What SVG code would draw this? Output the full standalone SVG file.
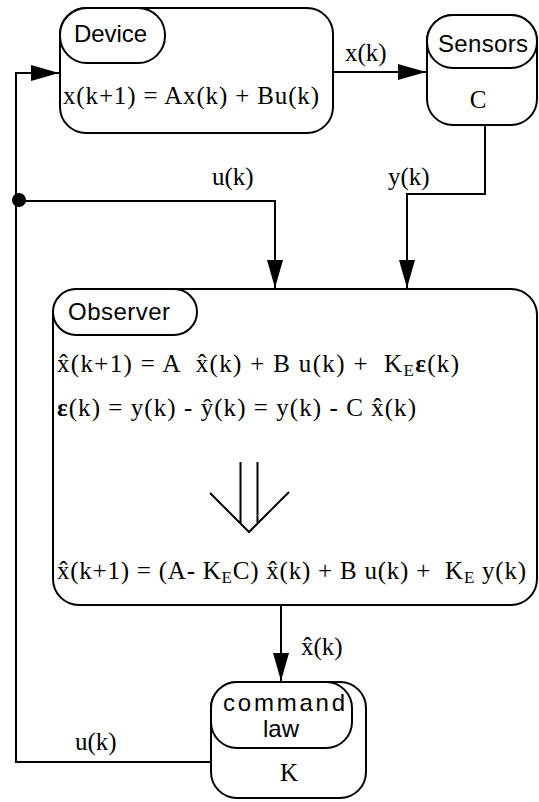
<svg xmlns="http://www.w3.org/2000/svg" width="539" height="802" viewBox="0 0 539 802">
<style>
.box{fill:#fff;stroke:#000;stroke-width:2}
.pill{fill:#fff;stroke:#000;stroke-width:2}
.ln{fill:none;stroke:#000;stroke-width:2}
.sans{font-family:"Liberation Sans",Arial,sans-serif;font-size:24px;fill:#000}
.serif{font-family:"Liberation Serif","Times New Roman",serif;font-size:25px;fill:#000;white-space:pre}
.lbl{font-family:"Liberation Serif","Times New Roman",serif;font-size:25px;fill:#000}
.sub{font-size:17px}
</style>
<defs>
<marker id="ah" markerUnits="userSpaceOnUse" markerWidth="28" markerHeight="16" refX="28" refY="8" orient="auto">
<path d="M0,0 L28,8 L0,16 Z" fill="#000"/>
</marker>
</defs>

<g id="connectors">
<path class="ln" d="M211,762 H16 V73 H59" marker-end="url(#ah)"/>
<path class="ln" d="M333,72 H426" marker-end="url(#ah)"/>
<path class="ln" d="M485,125 V194 H407 V288" marker-end="url(#ah)"/>
<path class="ln" d="M19,201 H275 V288" marker-end="url(#ah)"/>
<circle cx="19" cy="200" r="7" fill="#000"/>
<path class="ln" d="M281,605 V681" marker-end="url(#ah)"/>
<text class="lbl" x="345" y="61">x(k)</text>
<text class="lbl" x="212" y="185">u(k)</text>
<text class="lbl" x="388" y="185">y(k)</text>
<text class="lbl" x="301" y="655">x̂(k)</text>
<text class="lbl" x="75" y="750">u(k)</text>
</g>

<g id="device">
<rect class="box" x="60" y="8" width="273" height="125" rx="26" ry="26"/>
<rect class="pill" x="60" y="8" width="105" height="55" rx="27" ry="27"/>
<text class="sans" x="74" y="42" textLength="73">Device</text>
<text class="serif" x="63" y="104" font-size="26" textLength="256">x(k+1) = Ax(k) + Bu(k)</text>
</g>

<g id="sensors">
<rect class="box" x="427" y="15" width="110" height="110" rx="26" ry="26"/>
<rect class="pill" x="427" y="15" width="110" height="53" rx="26" ry="26"/>
<text class="sans" x="438" y="52" textLength="90">Sensors</text>
<text class="lbl" x="478" y="108" text-anchor="middle">C</text>
</g>

<g id="observer">
<rect class="box" x="53" y="289" width="484" height="316" rx="26" ry="26"/>
<rect class="pill" x="53" y="289" width="144" height="46" rx="23" ry="23"/>
<text class="sans" x="68" y="320" textLength="102">Observer</text>
<text class="serif" x="57" y="372" textLength="402">x̂(k+1) = A  x̂(k) + B u(k) +  K<tspan class="sub" dy="4">E</tspan><tspan dy="-4" font-weight="bold">ε</tspan>(k)</text>
<text class="serif" x="57" y="416" textLength="359"><tspan font-weight="bold">ε</tspan>(k) = y(k) - ŷ(k) = y(k) - C x̂(k)</text>
<path class="ln" d="M240.5,462 V524 M257.5,462 V524 M210,493 L249,532 L289,492"/>
<text class="serif" x="57" y="579" textLength="469">x̂(k+1) = (A- K<tspan class="sub" dy="4">E</tspan><tspan dy="-4">C) x̂(k) + B u(k) +  K</tspan><tspan class="sub" dy="4">E</tspan><tspan dy="-4"> y(k)</tspan></text>
</g>

<g id="command-law">
<rect class="box" x="211" y="682" width="155" height="116" rx="26" ry="26"/>
<rect class="pill" x="211" y="682" width="141" height="66" rx="26" ry="26"/>
<text class="sans" x="284" y="711" font-size="26" text-anchor="middle" textLength="122">command</text>
<text class="sans" x="281" y="737" font-size="26" text-anchor="middle">law</text>
<text class="lbl" x="289" y="781" text-anchor="middle">K</text>
</g>
</svg>
